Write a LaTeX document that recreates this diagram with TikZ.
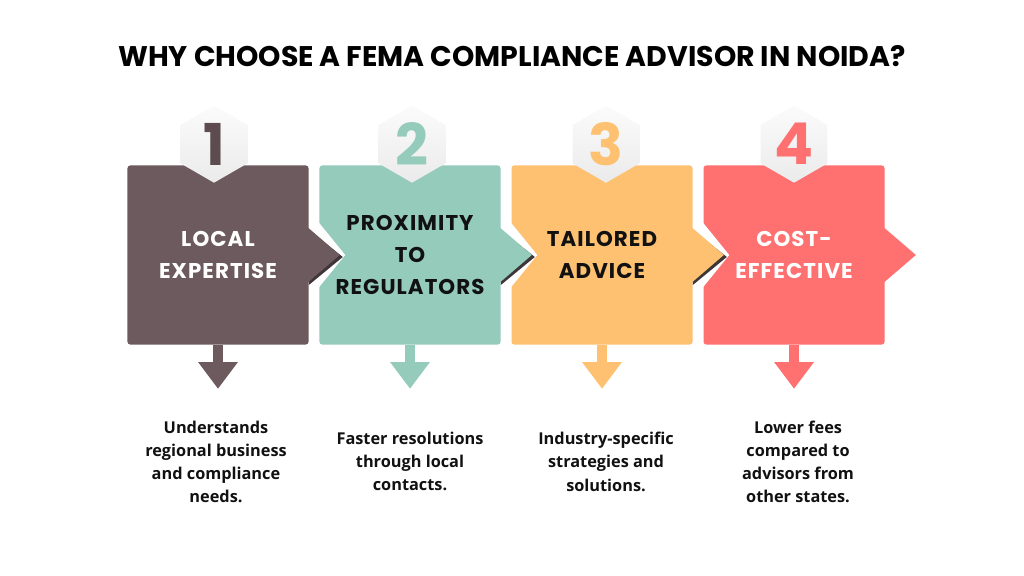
\documentclass[tikz,border=0pt]{standalone}
\usepackage{fontspec}
\setmainfont{Poppins}
\newfontfamily\descfont{Open Sans}
\usepackage{tikz}
\usetikzlibrary{arrows.meta,positioning,shapes.geometric,calc}
\definecolor{stepbrown}{RGB}{108,90,94}
\definecolor{stepteal}{RGB}{149,203,187}
\definecolor{steporange}{RGB}{253,193,113}
\definecolor{stepred}{RGB}{255,112,112}
\definecolor{notchshade}{RGB}{62,54,56}
\definecolor{inkblack}{RGB}{17,17,17}

\begin{document}
\begin{tikzpicture}[
  x=0.025cm, y=-0.025cm,
  node distance=0.26cm,
  card/.style={minimum width=4.525cm, minimum height=4.475cm, rounded corners=2pt,
    inner sep=0pt, align=center, text width=4.3cm,
    font=\bfseries\addfontfeature{LetterSpace=5}\fontsize{15.2}{22.5}\selectfont},
  hexa/.style={regular polygon, regular polygon sides=6, shape border rotate=30,
    minimum size=1.925cm, inner sep=0pt, top color=gray!3, bottom color=gray!16,
    font=\bfseries\fontsize{41}{41}\selectfont},
  downarr/.style={line width=7.1pt, -{Triangle[width=27pt,length=19pt]}},
  desc/.style={align=center, text=inkblack,
    font=\descfont\bfseries\fontsize{11.6}{16.4}\selectfont}
]
  \fill[white] (0,0) rectangle (1024,576);
  \useasboundingbox (0,0) rectangle (1024,576);

  \node[font=\bfseries\fontsize{20.2}{24}\selectfont] (title) at (512,56)
    {WHY CHOOSE A FEMA COMPLIANCE ADVISOR IN NOIDA?};

  % the four cards
  \node[card, fill=stepbrown, text=white] (b1) at (218,255) {LOCAL\\EXPERTISE};
  \node[card, fill=stepteal, text=inkblack, right=of b1] (b2) {PROXIMITY\\TO\\REGULATORS};
  \node[card, fill=steporange, text=inkblack, right=of b2] (b3) {TAILORED\\ADVICE};
  \node[card, fill=stepred, text=white, right=of b3] (b4) {COST-\\EFFECTIVE};

  % notches, shadows and pointers
  \fill[white] ($(b2.west)+(0,-32)$) -- ($(b2.west)+(26,0)$) -- ($(b2.west)+(0,32)$) -- cycle;
  \fill[notchshade] ($(b1.east)+(0,-25)$) -- ($(b1.east)+(34,2)$) -- ($(b1.east)+(0,30)$) -- cycle;
  \fill[stepbrown] ($(b1.east)+(-1,-27.5)$) -- ($(b1.east)+(31,0)$) -- ($(b1.east)+(-1,27.5)$) -- cycle;

  \fill[white] ($(b3.west)+(0,-32)$) -- ($(b3.west)+(26,0)$) -- ($(b3.west)+(0,32)$) -- cycle;
  \fill[notchshade] ($(b2.east)+(0,-25)$) -- ($(b2.east)+(34,2)$) -- ($(b2.east)+(0,30)$) -- cycle;
  \fill[stepteal] ($(b2.east)+(-1,-27.5)$) -- ($(b2.east)+(31,0)$) -- ($(b2.east)+(-1,27.5)$) -- cycle;

  \fill[white] ($(b4.west)+(0,-32)$) -- ($(b4.west)+(26,0)$) -- ($(b4.west)+(0,32)$) -- cycle;
  \fill[notchshade] ($(b3.east)+(0,-25)$) -- ($(b3.east)+(34,2)$) -- ($(b3.east)+(0,30)$) -- cycle;
  \fill[steporange] ($(b3.east)+(-1,-27.5)$) -- ($(b3.east)+(31,0)$) -- ($(b3.east)+(-1,27.5)$) -- cycle;

  \fill[stepred] ($(b4.east)+(-1,-27.5)$) -- ($(b4.east)+(31,0)$) -- ($(b4.east)+(-1,27.5)$) -- cycle;

  % number badges
  \node[hexa, text=stepbrown!85!black] (h1) at ($(b1.north)+(-4,-21)$) {1};
  \node[hexa, text=stepteal] (h2) at ($(b2.north)+(2,-21)$) {2};
  \node[hexa, text=steporange] (h3) at ($(b3.north)+(4,-21)$) {3};
  \node[hexa, text=stepred] (h4) at ($(b4.north)+(0,-21)$) {4};

  % pointers down to the notes
  \coordinate (a1) at ($(b1.south)+(0,44)$);
  \coordinate (a2) at ($(b2.south)+(0,44)$);
  \coordinate (a3) at ($(b3.south)+(0,44)$);
  \coordinate (a4) at ($(b4.south)+(0,44)$);
  \draw[downarr, stepbrown] (b1.south) -- (a1);
  \draw[downarr, stepteal] (b2.south) -- (a2);
  \draw[downarr, steporange] (b3.south) -- (a3);
  \draw[downarr, stepred] (b4.south) -- (a4);

  \node[desc] (d1) at ($(a1)+(-2,73)$) {Understands\\regional business\\and compliance\\needs.};
  \node[desc] (d2) at ($(a2)+(0,73)$) {Faster resolutions\\through local\\contacts.};
  \node[desc] (d3) at ($(a3)+(4,73)$) {Industry-specific\\strategies and\\solutions.};
  \node[desc] (d4) at ($(a4)+(4,73)$) {Lower fees\\compared to\\advisors from\\other states.};
\end{tikzpicture}
\end{document}
